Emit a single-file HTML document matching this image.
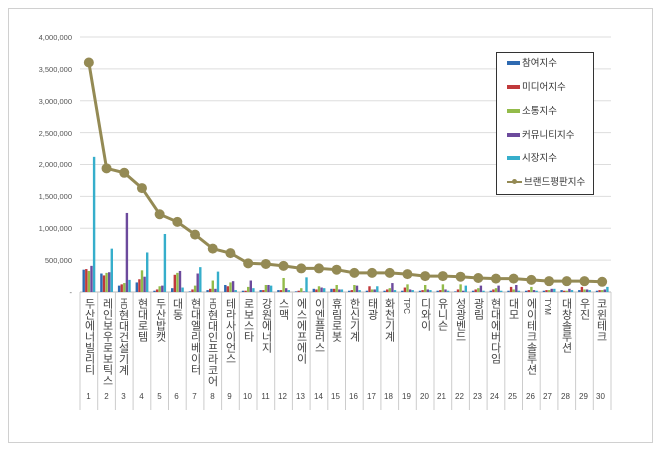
<!DOCTYPE html>
<html><head><meta charset="utf-8"><style>
body{margin:0;background:#fff;width:660px;height:450px;overflow:hidden;font-family:"Liberation Sans","Noto Sans CJK KR",sans-serif}
.frame{position:absolute;left:8px;top:8px;width:643px;height:433px;border:1px solid #d0d0d0}
.lab{position:absolute;top:298px;width:17px;writing-mode:vertical-rl;text-orientation:upright;font-size:11px;color:#444;line-height:17px;text-align:left;letter-spacing:0px}
.lab span{text-orientation:sideways;font-size:8px}
.num{position:absolute;top:392px;width:17px;text-align:center;font-size:8px;color:#444}
.yl{position:absolute;left:0;width:72px;text-align:right;font-size:7.5px;color:#555}
.leg{position:absolute;left:496px;top:52px;width:96px;height:141px;border:1px solid #333;background:#fff;font-size:9.5px;color:#333}
.li{position:absolute;left:10px;height:12px;line-height:12px}
.sw{display:inline-block;width:13px;height:4px;vertical-align:middle;margin-right:2px}
</style></head><body>
<div class="frame"></div>
<svg id="s" width="660" height="450" style="position:absolute;left:0;top:0"></svg>
<div class="yl" style="top:33px">4,000,000</div>
<div class="yl" style="top:65px">3,500,000</div>
<div class="yl" style="top:97px">3,000,000</div>
<div class="yl" style="top:129px">2,500,000</div>
<div class="yl" style="top:160px">2,000,000</div>
<div class="yl" style="top:192px">1,500,000</div>
<div class="yl" style="top:224px">1,000,000</div>
<div class="yl" style="top:256px">500,000</div>
<div class="yl" style="top:288px">-</div>
<div id="labs">
<div class="lab" style="left:80px">두산에너빌리티</div>
<div class="lab" style="left:98px">레인보우로보틱스</div>
<div class="lab" style="left:115px"><span>HD</span>현대건설기계</div>
<div class="lab" style="left:133px">현대로템</div>
<div class="lab" style="left:151px">두산밥캣</div>
<div class="lab" style="left:168px">대동</div>
<div class="lab" style="left:186px">현대엘리베이터</div>
<div class="lab" style="left:204px"><span>HD</span>현대인프라코어</div>
<div class="lab" style="left:221px">테라사이언스</div>
<div class="lab" style="left:239px">로보스타</div>
<div class="lab" style="left:257px">강원에너지</div>
<div class="lab" style="left:274px">스맥</div>
<div class="lab" style="left:292px">에스에프에이</div>
<div class="lab" style="left:310px">이엔플러스</div>
<div class="lab" style="left:327px">휴림로봇</div>
<div class="lab" style="left:345px">한신기계</div>
<div class="lab" style="left:363px">태광</div>
<div class="lab" style="left:380px">화천기계</div>
<div class="lab" style="left:398px"><span>TPC</span></div>
<div class="lab" style="left:416px">디와이</div>
<div class="lab" style="left:433px">유니슨</div>
<div class="lab" style="left:451px">성광벤드</div>
<div class="lab" style="left:469px">광림</div>
<div class="lab" style="left:486px">현대에버다임</div>
<div class="lab" style="left:504px">대모</div>
<div class="lab" style="left:522px">에이테크솔루션</div>
<div class="lab" style="left:539px"><span>TYM</span></div>
<div class="lab" style="left:557px">대창솔루션</div>
<div class="lab" style="left:575px">우진</div>
<div class="lab" style="left:592px">코윈테크</div>
</div>
<div class="num" style="left:80px">1</div><div class="num" style="left:98px">2</div><div class="num" style="left:115px">3</div><div class="num" style="left:133px">4</div><div class="num" style="left:151px">5</div><div class="num" style="left:168px">6</div><div class="num" style="left:186px">7</div><div class="num" style="left:204px">8</div><div class="num" style="left:221px">9</div><div class="num" style="left:239px">10</div><div class="num" style="left:257px">11</div><div class="num" style="left:274px">12</div><div class="num" style="left:292px">13</div><div class="num" style="left:310px">14</div><div class="num" style="left:327px">15</div><div class="num" style="left:345px">16</div><div class="num" style="left:363px">17</div><div class="num" style="left:380px">18</div><div class="num" style="left:398px">19</div><div class="num" style="left:416px">20</div><div class="num" style="left:433px">21</div><div class="num" style="left:451px">22</div><div class="num" style="left:469px">23</div><div class="num" style="left:486px">24</div><div class="num" style="left:504px">25</div><div class="num" style="left:522px">26</div><div class="num" style="left:539px">27</div><div class="num" style="left:557px">28</div><div class="num" style="left:575px">29</div><div class="num" style="left:592px">30</div>
<div class="leg">
<div class="li" style="top:5px"><span class="sw" style="background:#2e6ab1"></span>참여지수</div>
<div class="li" style="top:29px"><span class="sw" style="background:#c0393b"></span>미디어지수</div>
<div class="li" style="top:53px"><span class="sw" style="background:#93bb4a"></span>소통지수</div>
<div class="li" style="top:77px"><span class="sw" style="background:#6c4a9c"></span>커뮤니티지수</div>
<div class="li" style="top:100px"><span class="sw" style="background:#36aecb"></span>시장지수</div>
<div class="li" style="top:124px"><span style="display:inline-block;width:15px;height:2px;background:#948a54;vertical-align:middle;margin-right:2px;position:relative"><span style="position:absolute;left:5px;top:-2px;width:5px;height:5px;border-radius:50%;background:#948a54"></span></span>브랜드평판지수</div>
</div>
<script>
var s=document.getElementById('s'),h='';
var L=80,R=611,T=37,B=292,st=(R-L)/30;
function Y(v){return B-v/4000*(B-T);}
for(var i=1;i<=8;i++){var y=Y(i*500);h+='<line x1="'+L+'" x2="'+R+'" y1="'+y+'" y2="'+y+'" stroke="#ddd" stroke-width="1"/>';}
h+='<line x1="'+L+'" x2="'+R+'" y1="'+B+'" y2="'+B+'" stroke="#bbb"/>';
for(var i=0;i<=30;i++){var x=L+i*st;h+='<line x1="'+x+'" x2="'+x+'" y1="'+B+'" y2="410" stroke="#ccc"/>';}
var bars=[[350,360,330,410,2120],[290,260,300,310,680],[100,120,140,1240,190],[150,200,340,240,620],[20,40,90,100,910],[60,270,300,330,70],[10,40,100,290,390],[30,50,180,50,320],[110,90,150,170,30],[20,20,80,180,60],[30,30,110,110,100],[30,30,220,60,30],[10,20,60,10,230],[50,40,90,70,60],[50,50,110,40,40],[20,30,110,100,30],[20,90,40,40,90],[20,40,60,140,30],[20,70,120,40,30],[20,30,110,40,30],[20,30,120,40,20],[10,40,120,20,100],[20,40,60,100,20],[20,40,60,100,20],[20,80,40,110,20],[20,30,80,30,20],[20,30,30,50,50],[30,20,20,50,30],[30,80,40,40,30],[20,30,30,40,80]];
var cols=['#2e6ab1','#c0393b','#93bb4a','#6c4a9c','#36aecb'];
for(var i=0;i<30;i++){for(var j=0;j<5;j++){var x=L+i*st+2.5+j*2.6,y=Y(bars[i][j]);h+='<rect x="'+x+'" y="'+y+'" width="2.4" height="'+(B-y)+'" fill="'+cols[j]+'"/>';}}
var ln=[3600,1940,1870,1630,1220,1100,900,680,610,450,440,410,370,370,350,300,300,300,280,250,250,240,220,210,210,190,170,170,170,160];
var p='';for(var i=0;i<30;i++){p+=(L+(i+.5)*st)+','+Y(ln[i])+' ';}
h+='<polyline points="'+p+'" fill="none" stroke="#948a54" stroke-width="3"/>';
for(var i=0;i<30;i++){h+='<circle cx="'+(L+(i+.5)*st)+'" cy="'+Y(ln[i])+'" r="5" fill="#948a54"/>';}
s.innerHTML=h;
</script>
</body></html>
